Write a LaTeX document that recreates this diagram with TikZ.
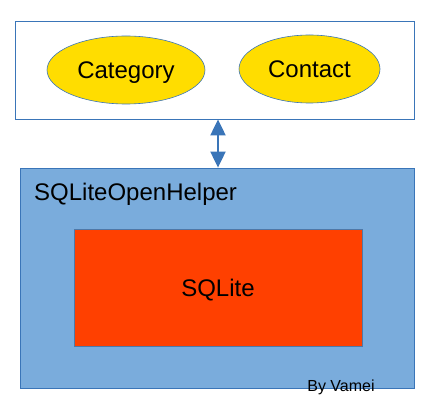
\documentclass[tikz,border=0pt]{standalone}
\usepackage{fontspec}
\setmainfont{Liberation Sans}
\usetikzlibrary{shapes.geometric,arrows.meta}
\definecolor{lineblue}{HTML}{3A75B8}
\definecolor{boxblue}{HTML}{7AACDC}
\definecolor{entyellow}{HTML}{FFDD00}
\definecolor{dbred}{HTML}{FF4000}
\begin{document}
\begin{tikzpicture}[x=1pt,y=-1pt] 
				\tikzstyle{every node}=[inner sep=0pt,text depth=0pt,font=\fontsize{24}{28}\selectfont] 
				\tikzstyle{frame}=[draw=lineblue,line width=0.8pt,rectangle] 
				\tikzstyle{entity}=[ellipse,draw=lineblue,line width=0.6pt,fill=entyellow,minimum height=68pt] 
				\tikzstyle{link}=[lineblue,line width=2pt,{Triangle[length=16pt,width=15pt]}-{Triangle[length=16pt,width=15pt]}] 
				\useasboundingbox (0,0) rectangle (428,403); 
				% top layer
				\node[frame,fill=white,minimum width=399pt,minimum height=98pt] (model) at (214.5,70) {}; 
				\node[entity,minimum width=158pt] (category) at (126,70) {Category}; 
				\node[entity,minimum width=141pt] (contact) at (309.5,69) {Contact}; 
				% helper layer
				\node[frame,fill=boxblue,minimum width=394pt,minimum height=220pt] (helper) at (217,278) {}; 
				\node[anchor=west] (helpername) at (34,192) {SQLiteOpenHelper}; 
				\node[draw=lineblue!70!gray,line width=0.6pt,fill=dbred,minimum width=288pt,minimum height=117pt] (sqlite) at (218,287.5) {SQLite}; 
				\node[font=\fontsize{16}{18}\selectfont] (author) at (341,386) {By Vamei}; 
				\draw[link] (model.south -| sqlite.north) -- (helper.north -| sqlite.north); 
				\end{tikzpicture}
\end{document}
